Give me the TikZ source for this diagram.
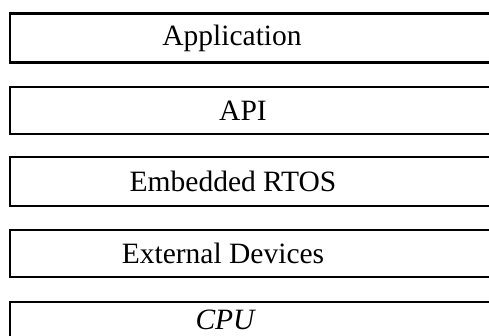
\documentclass[tikz,border=0pt]{standalone}
\usepackage{fontspec}
\setmainfont{Liberation Serif}
\begin{document}
\begin{tikzpicture}[x=1pt,y=-1pt,
  layerbox/.style={draw=black,line width=2.2pt,fill=white},
  layertext/.style={font=\fontsize{29.5}{34}\selectfont,inner sep=0pt,text=black}]
\useasboundingbox (0,0) rectangle (489,336);
\clip (0,0) rectangle (489,336);
\draw[layerbox] (10,13.5) rectangle (520,62.5);
\draw[layerbox] (10,87) rectangle (520,134);
\draw[layerbox] (10,157) rectangle (520,206);
\draw[layerbox] (10,230) rectangle (520,277);
\draw[layerbox] (10,302) rectangle (520,380);
\node[layertext] (app) at (232,38) {Application};
\node[layertext] (api) at (243,110.5) {API};
\node[layertext] (rtos) at (233,181.5) {Embedded RTOS};
\node[layertext] (ext) at (223,253.5) {External Devices};
\node[layertext,anchor=base] (cpu) at (225,329.5) {\itshape CPU};
\end{tikzpicture}
\end{document}
